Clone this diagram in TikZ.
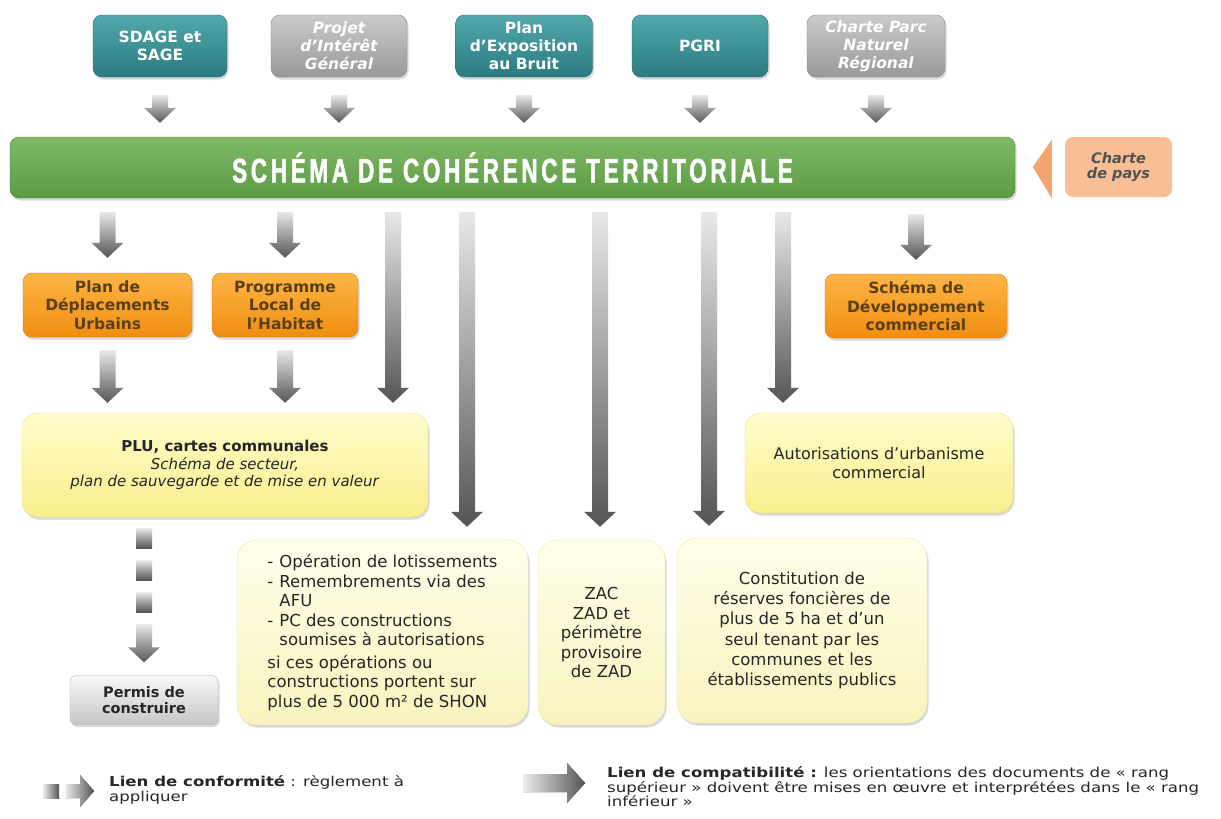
\documentclass[tikz,border=0pt]{standalone}
\usepackage{fontspec}
\setmainfont{DejaVu Sans}
\newfontfamily\scotfont[FakeStretch=0.66,LetterSpace=11,FakeBold=1.5]{Liberation Sans}
\newfontfamily\legfont[FakeStretch=1.22]{DejaVu Sans}
\usepackage{tikz}
\usetikzlibrary{calc,shadows}
\definecolor{tealtop}{HTML}{52A8AB}
\definecolor{tealbot}{HTML}{2B7B80}
\definecolor{greytop}{HTML}{CACACA}
\definecolor{greybot}{HTML}{999999}
\definecolor{greentop}{HTML}{80BA66}
\definecolor{greenbot}{HTML}{5C9A45}
\definecolor{orangetop}{HTML}{FDB547}
\definecolor{orangebot}{HTML}{F08E10}
\definecolor{orangetext}{HTML}{5B3F14}
\definecolor{yeltop}{HTML}{FFFCCC}
\definecolor{yelbot}{HTML}{F9EF8C}
\definecolor{creamtop}{HTML}{FFFEEA}
\definecolor{creambot}{HTML}{F8F3BE}
\definecolor{yelline}{HTML}{E8DE8E}
\definecolor{permtop}{HTML}{F8F8F8}
\definecolor{permbot}{HTML}{C6C6C6}
\definecolor{chartebg}{HTML}{F9BE95}
\definecolor{chartetri}{HTML}{F5A46D}
\definecolor{arrtop}{HTML}{E8E8E8}
\definecolor{arrbot}{HTML}{555555}
\definecolor{ink}{HTML}{262626}
\tikzset{
  box/.style={rounded corners=9pt, inner sep=0pt, align=center,
    drop shadow={opacity=0.3, shadow xshift=1.5pt, shadow yshift=-2.5pt}},
  tealbox/.style={box, top color=tealtop, bottom color=tealbot, draw=tealbot!85!black,
    text=white, font=\bfseries\fontsize{15.5}{18}\selectfont, minimum height=62pt},
  greybox/.style={box, top color=greytop, bottom color=greybot, draw=greybot!85!black,
    text=white, font=\bfseries\itshape\fontsize{15.5}{18}\selectfont, minimum height=62pt},
  scotbar/.style={box, top color=greentop, bottom color=greenbot, draw=greenbot!85!black,
    text=white},
  chartebox/.style={rounded corners=8pt, inner sep=0pt, align=center, fill=chartebg,
    text=ink!80, font=\bfseries\itshape\fontsize{14.5}{15.5}\selectfont},
  orangebox/.style={box, top color=orangetop, bottom color=orangebot, draw=orangebot!85!black,
    text=orangetext, font=\bfseries\fontsize{15.5}{18.5}\selectfont, minimum height=64pt},
  yelbox/.style={box, rounded corners=16pt, top color=yeltop, bottom color=yelbot, draw=yelline,
    text=ink},
  creambox/.style={box, rounded corners=20pt, top color=creamtop, bottom color=creambot, draw=yelline!70,
    text=ink, minimum height=185pt},
  permbox/.style={box, rounded corners=6pt, top color=permtop, bottom color=permbot, draw=gray!60,
    text=ink, font=\bfseries\fontsize{14.5}{15.5}\selectfont},
  gshade/.style={top color=arrtop, bottom color=arrbot},
  hshade/.style={left color=arrtop!80, right color=arrbot},
  legtext/.style={anchor=west, align=left, inner sep=0pt, text=ink,
    font=\legfont\fontsize{13.6}{14.5}\selectfont},
}
% block arrow from #1 (top) down to #2 (tip)
\newcommand\garrow[2]{%
  \path[gshade] let \p1=#1, \p2=#2 in
    (\x1-8pt,\y1) -- (\x1+8pt,\y1) -- (\x1+8pt,\y2+15pt) -- (\x1+16pt,\y2+15pt)
    -- (\x1,\y2) -- (\x1-16pt,\y2+15pt) -- (\x1-8pt,\y2+15pt) -- cycle;}
\newcommand\gsquare[1]{%
  \path[gshade] let \p1=#1 in (\x1-8pt,\y1) rectangle (\x1+8pt,\y1-20pt);}

\begin{document}
\begin{tikzpicture}[x=1pt,y=-1pt]
  \useasboundingbox[fill=white] (0,0) rectangle (1221,819);

  % documents de rang superieur
  \node[tealbox, minimum width=134pt] (sdage) at (160,46) {SDAGE et\\SAGE};
  \node[greybox, minimum width=136pt] (pig) at (339,46) {Projet\\d’Intérêt\\Général};
  \node[tealbox, minimum width=137pt] (peb) at (524,46) {Plan\\d’Exposition\\au Bruit};
  \node[tealbox, minimum width=136pt] (pgri) at (700,46) {PGRI};
  \node[greybox, minimum width=138pt] (pnr) at (876,46) {Charte Parc\\Naturel\\Régional};

  \node[scotbar, minimum width=1005pt, minimum height=61pt] (scot) at (512.5,167.5)
    {\scotfont\bfseries\fontsize{34}{34}\selectfont SCHÉMA DE COHÉRENCE TERRITORIALE};
  \node[chartebox, minimum width=107pt, minimum height=60pt] (charte) at (1118.5,167) {Charte\\de pays};
  \fill[chartetri] ($(charte.west)+(-32,0)$) -- ($(charte.north west)+(-13,3)$)
    -- ($(charte.south west)+(-13,1)$) -- cycle;

  \node[orangebox, minimum width=169pt] (pdu) at (107.5,305) {Plan de\\Déplacements\\Urbains};
  \node[orangebox, minimum width=146pt] (plh) at (285,305) {Programme\\Local de\\l’Habitat};
  \node[orangebox, minimum width=182pt] (sdc) at (916,306) {Schéma de\\Développement\\commercial};

  \node[yelbox, minimum width=406pt, minimum height=104pt, font=\fontsize{15}{17.5}\selectfont] (plu) at (225,465)
    {\textbf{PLU, cartes communales}\\\textit{Schéma de secteur,}\\\textit{plan de sauvegarde et de mise en valeur}};
  \node[yelbox, minimum width=268pt, minimum height=100pt, font=\fontsize{16}{19}\selectfont] (aum) at (879,463)
    {Autorisations d’urbanisme\\commercial};

  % documents de rang inferieur
  \node[permbox, minimum width=148pt, minimum height=49pt] (permis) at (144,700) {Permis de\\construire};
  \node[creambox, minimum width=291pt, align=left, font=\fontsize{16.5}{19.5}\selectfont] (lotis) at (382.5,632.5)
    {\makebox[12pt][l]{-}Opération de lotissements\\
     \makebox[12pt][l]{-}Remembrements via des\\
     \hspace*{12pt}AFU\\
     \makebox[12pt][l]{-}PC des constructions\\
     \hspace*{12pt}soumises à autorisations\\[3pt]
     si ces opérations ou\\
     constructions portent sur\\
     plus de 5~000 m² de SHON};
  \node[creambox, minimum width=127pt, font=\fontsize{16.5}{19.5}\selectfont] (zac) at (601.5,632.5)
    {ZAC\\ZAD et\\périmètre\\provisoire\\de ZAD};
  \node[creambox, minimum width=250pt, font=\fontsize{16.5}{20.2}\selectfont] (reserves) at (802,630.5)
    {Constitution de\\réserves foncières de\\plus de 5 ha et d’un\\seul tenant par les\\communes et les\\établissements publics};

  % liens de compatibilite
  \garrow{($(sdage.south)+(0,18)$)}{($(sdage.south |- scot.north)+(0,-14)$)}
  \garrow{($(pig.south)+(0,18)$)}{($(pig.south |- scot.north)+(0,-14)$)}
  \garrow{($(peb.south)+(0,18)$)}{($(peb.south |- scot.north)+(0,-14)$)}
  \garrow{($(pgri.south)+(0,18)$)}{($(pgri.south |- scot.north)+(0,-14)$)}
  \garrow{($(pnr.south)+(0,18)$)}{($(pnr.south |- scot.north)+(0,-14)$)}

  \garrow{($(scot.south -| pdu)+(0,14)$)}{($(pdu.north)+(0,-15)$)}
  \garrow{($(scot.south -| plh)+(0,14)$)}{($(plh.north)+(0,-15)$)}
  \garrow{($(scot.south -| sdc)+(0,16)$)}{($(sdc.north)+(0,-14)$)}
  \garrow{($(pdu.south)+(0,13)$)}{($(pdu.south |- plu.north)+(0,-10)$)}
  \garrow{($(plh.south)+(0,13)$)}{($(plh.south |- plu.north)+(0,-10)$)}

  \coordinate (k1) at (393,0);
  \coordinate (k2) at (467,0);
  \coordinate (k3) at (600,0);
  \coordinate (k4) at (709,0);
  \coordinate (k5) at (783,0);
  \garrow{($(scot.south -| k1)+(0,14)$)}{($(plu.north -| k1)+(0,-10)$)}
  \garrow{($(scot.south -| k2)+(0,14)$)}{($(lotis.north -| k2)+(0,-13)$)}
  \garrow{($(scot.south -| k3)+(0,14)$)}{($(zac.north -| k3)+(0,-13)$)}
  \garrow{($(scot.south -| k4)+(0,14)$)}{($(reserves.north -| k4)+(0,-12)$)}
  \garrow{($(scot.south -| k5)+(0,14)$)}{($(aum.north -| k5)+(0,-10)$)}

  % lien de conformite
  \gsquare{($(plu.south -| permis)+(0,11)$)}
  \gsquare{($(plu.south -| permis)+(0,43)$)}
  \gsquare{($(plu.south -| permis)+(0,75)$)}
  \garrow{($(plu.south -| permis)+(0,107)$)}{($(permis.north)+(0,-13)$)}

  % legende
  \fill[hshade] (43,784) rectangle (59,798);
  \fill[hshade] (65,784) -- (80,784) -- (80,775) -- (94,791) -- (80,807) -- (80,798) -- (65,798) -- cycle;
  \node[legtext] (legconf) at (109,790) {\textbf{Lien de conformité} : règlement à\\appliquer};
  \fill[hshade] (523,774) -- (567,774) -- (567,763) -- (585,783) -- (567,803) -- (567,792) -- (523,792) -- cycle;
  \node[legtext] (legcomp) at (607,787)
    {\textbf{Lien de compatibilité :} les orientations des documents de « rang\\
     supérieur » doivent être mises en œuvre et interprétées dans le « rang\\
     inférieur »};
\end{tikzpicture}
\end{document}
